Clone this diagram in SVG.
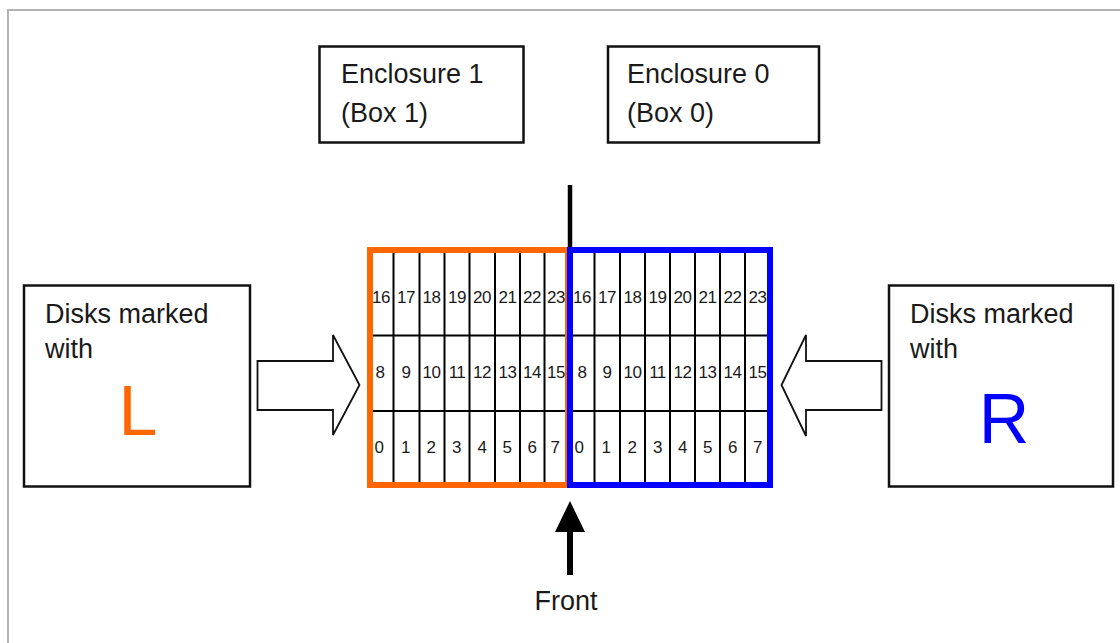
<svg xmlns="http://www.w3.org/2000/svg" width="1120" height="643" viewBox="0 0 1120 643">
<style>
.t{font-family:"Liberation Sans",Arial,sans-serif;fill:#1a1a1a}
.lbl{font-size:27px}
.num{font-size:17px;letter-spacing:-0.5px;text-anchor:middle}
.box{fill:#fff;stroke:#111;stroke-width:2.5}
.grid{stroke:#000;stroke-width:2;fill:none}
.harrow{fill:#fff;stroke:#111;stroke-width:1.8;stroke-linejoin:miter}
</style>
<rect width="1120" height="643" fill="#fff"/>
<path d="M8 643V10H1120" fill="none" stroke="#b3b3b3" stroke-width="2"/>

<g id="enclosure1">
<rect class="box" x="319.5" y="46.5" width="204" height="96"/>
<text class="t lbl" x="341" y="83">Enclosure 1</text>
<text class="t lbl" x="341" y="122">(Box 1)</text>
</g>
<g id="enclosure0">
<rect class="box" x="608" y="46.5" width="211" height="96"/>
<text class="t lbl" x="627" y="83">Enclosure 0</text>
<text class="t lbl" x="627" y="122">(Box 0)</text>
</g>

<g id="left-box">
<rect class="box" x="24" y="285.5" width="226" height="201"/>
<text class="t lbl" x="45" y="323">Disks marked</text>
<text class="t lbl" x="45" y="358">with</text>
<text x="138" y="435" font-family="Liberation Sans,Arial,sans-serif" font-size="70" fill="#ff6600" text-anchor="middle">L</text>
</g>
<g id="right-box">
<rect class="box" x="889" y="285.5" width="224" height="201"/>
<text class="t lbl" x="910" y="323">Disks marked</text>
<text class="t lbl" x="910" y="358">with</text>
<text x="1004" y="443" font-family="Liberation Sans,Arial,sans-serif" font-size="70" fill="#0000ff" text-anchor="middle">R</text>
</g>

<g id="connectors">
<polygon class="harrow" points="257.5,361 333,361 333,335 359.5,385 333,435 333,410 257.5,410"/>
<polygon class="harrow" points="881.5,361 806,361 806,335 781.5,385 806,436 806,410 881.5,410"/>
<line x1="570" y1="185" x2="570" y2="250" stroke="#000" stroke-width="4.5"/>
<rect x="567" y="530" width="6" height="45" fill="#000"/>
<polygon points="555,532 585,532 570,501" fill="#000"/>
</g>

<g id="enclosure1-disks">
<g class="grid">
<path d="M393.5 253V483M419.5 253V483M444.5 253V483M469.5 253V483M495 253V483M520 253V483M544.5 253V483M373 335.5H567M373 411H567"/>
</g>
<g class="t num">
<text x="381" y="302.5">16</text><text x="406" y="302.5">17</text><text x="431.5" y="302.5">18</text><text x="457" y="302.5">19</text><text x="482" y="302.5">20</text><text x="507.5" y="302.5">21</text><text x="532" y="302.5">22</text><text x="556" y="302.5">23</text>
<text x="380" y="377.5">8</text><text x="406" y="377.5">9</text><text x="431.5" y="377.5">10</text><text x="457" y="377.5">11</text><text x="482" y="377.5">12</text><text x="507.5" y="377.5">13</text><text x="532" y="377.5">14</text><text x="556" y="377.5">15</text>
<text x="379" y="452.5">0</text><text x="405.5" y="452.5">1</text><text x="431" y="452.5">2</text><text x="456.5" y="452.5">3</text><text x="482" y="452.5">4</text><text x="507" y="452.5">5</text><text x="532" y="452.5">6</text><text x="555" y="452.5">7</text>
</g>
<rect x="370" y="250" width="198" height="235" fill="none" stroke="#ff6600" stroke-width="6"/>
</g>

<g id="enclosure0-disks">
<g class="grid">
<path d="M594.5 253V483M620 253V483M645 253V483M670 253V483M695 253V483M720 253V483M745 253V483M573 335.5H767M573 411H767"/>
</g>
<g class="t num">
<text x="582" y="302.5">16</text><text x="607" y="302.5">17</text><text x="632.5" y="302.5">18</text><text x="657.5" y="302.5">19</text><text x="682.5" y="302.5">20</text><text x="707.5" y="302.5">21</text><text x="732.5" y="302.5">22</text><text x="757.5" y="302.5">23</text>
<text x="582" y="377.5">8</text><text x="607" y="377.5">9</text><text x="632.5" y="377.5">10</text><text x="657.5" y="377.5">11</text><text x="682.5" y="377.5">12</text><text x="707.5" y="377.5">13</text><text x="732.5" y="377.5">14</text><text x="757.5" y="377.5">15</text>
<text x="579" y="452.5">0</text><text x="606" y="452.5">1</text><text x="632" y="452.5">2</text><text x="657.5" y="452.5">3</text><text x="682.5" y="452.5">4</text><text x="707.5" y="452.5">5</text><text x="732.5" y="452.5">6</text><text x="757.5" y="452.5">7</text>
</g>
<rect x="570" y="250" width="200" height="235" fill="none" stroke="#0000ff" stroke-width="6"/>
</g>

<g id="front-label">
<text class="t lbl" x="566" y="610" text-anchor="middle">Front</text>
</g>
</svg>
